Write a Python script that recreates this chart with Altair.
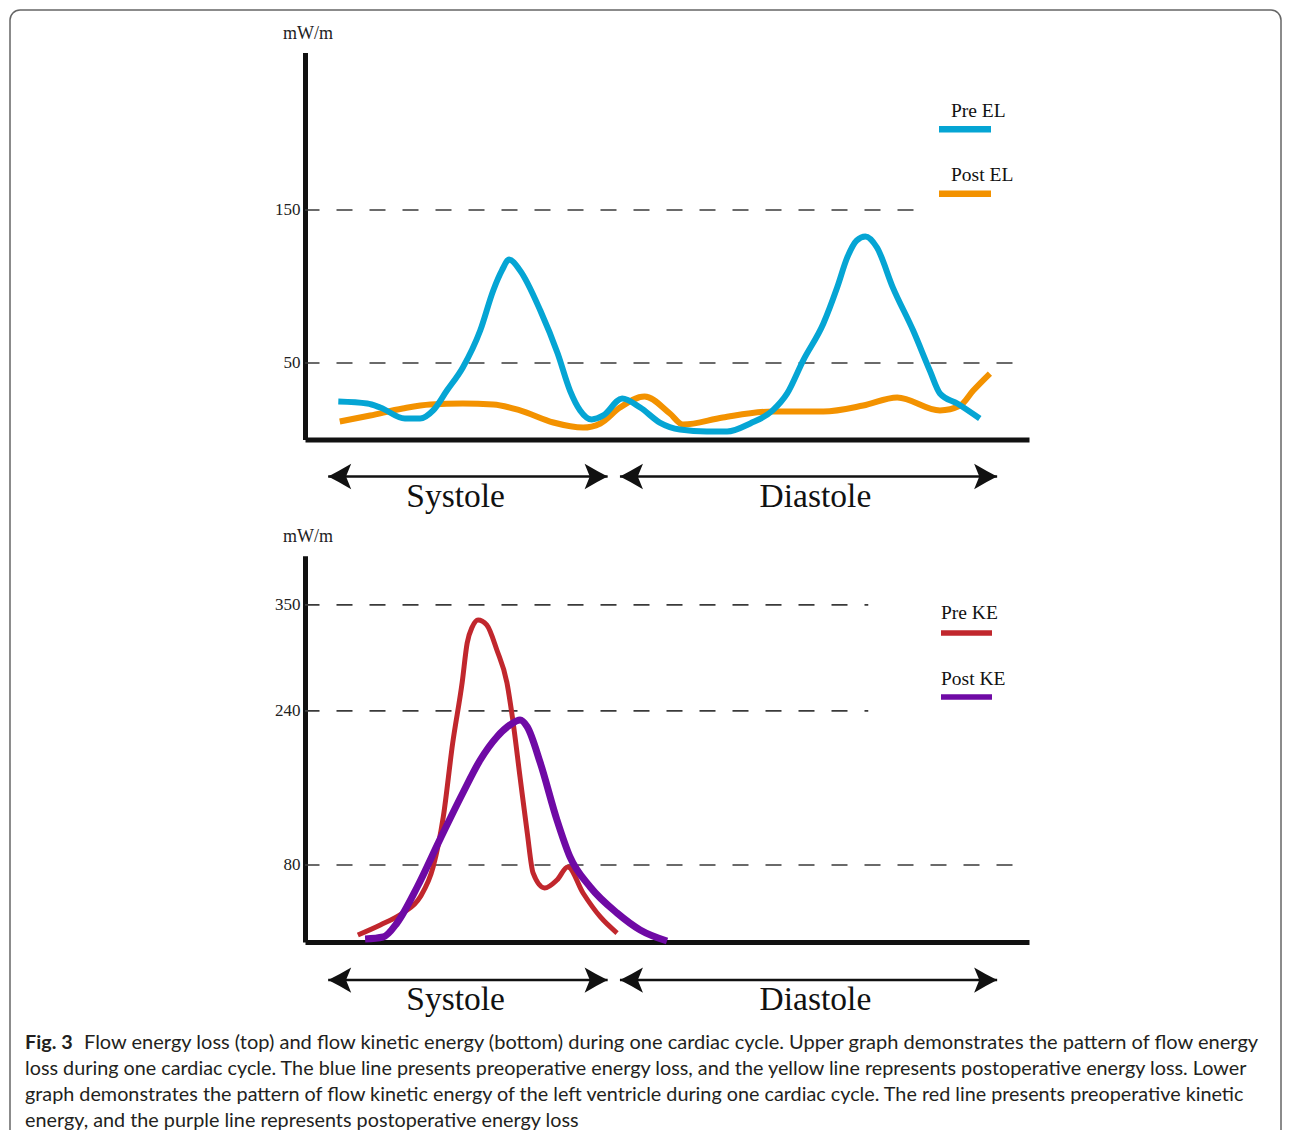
import altair as alt
import pandas as pd

# ---------------- data (x = time, % of one cardiac cycle) ----------------
pre_el_t = [4.6, 8.6, 10.4, 13.8, 15.9, 17.7, 19.6, 21.8, 24.2, 26.0, 27.2, 28.2, 29.7, 32.5, 34.9,
            36.6, 38.0, 39.6, 41.2, 43.8, 46.3, 49.0, 51.8, 55.5, 58.3, 61.5, 64.6, 66.6, 68.8, 71.6,
            73.5, 74.9, 76.2, 77.4, 79.0, 81.2, 84.0, 86.3, 87.7, 90.1, 93.2]
pre_el_v = [24.8, 23.5, 20.9, 13.7, 13.7, 19.0, 32.0, 47.1, 71.2, 97.4, 110.5, 117.6, 110.5, 84.3, 56.2,
            32.0, 19.0, 13.1, 15.7, 26.8, 20.9, 11.1, 6.5, 5.2, 5.2, 10.5, 19.0, 30.1, 51.6, 75.8,
            99.3, 119.0, 130.1, 132.7, 125.5, 99.3, 71.2, 45.1, 30.1, 23.5, 13.7]

post_el_t = [4.8, 9.0, 13.5, 17.3, 21.8, 26.0, 29.7, 34.3, 38.4, 40.8, 43.5, 46.9, 50.4, 52.2, 57.7,
             64.6, 71.6, 77.1, 81.8, 87.7, 90.5, 92.3, 94.6]
post_el_v = [11.8, 15.7, 20.3, 22.9, 23.5, 22.9, 19.0, 11.1, 7.8, 10.5, 20.9, 28.1, 17.0, 9.8, 14.4,
             18.3, 18.3, 22.2, 27.5, 19.0, 22.2, 32.0, 43.1]

pre_ke_t = [7.3, 10.4, 13.5, 15.9, 17.7, 19.1, 20.4, 21.7, 22.4, 23.1, 23.9, 25.1, 26.5, 27.9, 28.7,
            29.7, 30.7, 31.5, 33.1, 34.8, 36.3, 38.4, 40.8, 43.1]
pre_ke_v = [7.3, 17.7, 30.1, 46.7, 77.9, 129.8, 206.6, 269.0, 310.5, 327.1, 334.4, 329.2, 303.2, 269.0, 230.5,
            171.3, 113.2, 71.7, 56.1, 64.4, 77.9, 50.9, 26.0, 9.3]

post_ke_t = [8.3, 10.8, 12.7, 15.5, 18.6, 21.8, 24.2, 26.5, 28.3, 29.7, 30.7, 32.5, 34.8, 36.6, 39.4,
             43.1, 46.3, 50.0]
post_ke_v = [3.1, 5.2, 19.7, 57.1, 105.9, 154.7, 189.0, 212.9, 225.3, 230.5, 223.3, 185.9, 126.7, 88.3, 57.1,
             30.1, 12.5, 1.0]

el_ticks = [150, 50]
el_grid_end = [84.9, 100]
ke_ticks = [350, 240, 80]
ke_grid_end = [77.8, 77.8, 100]

phase_names = ["Systole", "Diastole"]
phase_start = [3.2, 43.5]
phase_end = [41.8, 95.6]
phase_label_t = [20.8, 70.5]

caption_bold = "Fig. 3"
caption_lines = [
    "Flow energy loss (top) and flow kinetic energy (bottom) during one cardiac cycle. Upper graph demonstrates the pattern of flow energy",
    "loss during one cardiac cycle. The blue line presents preoperative energy loss, and the yellow line represents postoperative energy loss. Lower",
    "graph demonstrates the pattern of flow kinetic energy of the left ventricle during one cardiac cycle. The red line presents preoperative kinetic",
    "energy, and the purple line represents postoperative energy loss",
]

# ---------------- styles ----------------
BLUE, ORANGE, RED, PURPLE = "#05a5d4", "#f39200", "#c1272d", "#6f0aa5"
SERIF = "Liberation Serif"
SANS = "Lato"
W, H = 1274, 1122

RIGHT_HEAD = "M0,0 Q-0.9,-0.45 -2,-1.1 L-1.55,0 L-2,1.1 Q-0.9,0.45 0,0 Z"
LEFT_HEAD = "M0,0 Q0.9,-0.45 2,-1.1 L1.55,0 L2,1.1 Q0.9,0.45 0,0 Z"

x_sc = alt.Scale(domain=[0, 100], range=[297, 1021], nice=False, zero=False)
one = pd.DataFrame({"k": [0]})


def make_panel(lines, ticks, grid_end, ymax, yrange, x_offset, title_y,
               arrow_y, label_y, legend):
    ysc = alt.Scale(domain=[0, ymax], range=yrange, nice=False, zero=False)
    yaxis = alt.Axis(values=ticks, orient="left", offset=-297, domain=True, domainWidth=5,
                     domainColor="#111", domainCap="butt", ticks=False, tickSize=0, labelPadding=5,
                     labelFont=SERIF, labelFontSize=17, labelColor="#222", grid=False,
                     labelFlush=False, labelOverlap=False,
                     title="mW/m", titleAngle=0, titleX=2.5, titleY=title_y, titleAlign="center",
                     titleBaseline="alphabetic", titleFont=SERIF, titleFontSize=18,
                     titleFontWeight="normal", titleColor="#222")
    xaxis = alt.Axis(orient="bottom", offset=x_offset, domain=True, domainWidth=5, domainColor="#111",
                     domainCap="butt", labels=False, ticks=False, grid=False, title=None)

    def X(f):
        return alt.X(f, scale=x_sc, axis=xaxis)

    def Y(f):
        return alt.Y(f, scale=ysc, axis=yaxis)

    def YD(v):
        return alt.YDatum(v, type="quantitative", scale=ysc, axis=yaxis)

    grid_df = pd.DataFrame({"value": ticks, "start": [0] * len(ticks), "end": grid_end})
    layers = [alt.Chart(grid_df).mark_rule(strokeDash=[16, 17], strokeDashOffset=1.5,
                                          color="#3a3a3a", strokeWidth=1.6).encode(
        x=X("start:Q"), x2="end:Q", y=Y("value:Q"))]

    for t, v, color, width in lines:
        df = pd.DataFrame({"t": t, "v": v})
        layers.append(alt.Chart(df).mark_line(color=color, strokeWidth=width, interpolate="monotone",
                                              strokeJoin="round").encode(x=X("t:Q"), y=Y("v:Q")))

    ph = pd.DataFrame({"name": phase_names, "start": phase_start, "end": phase_end,
                       "label_t": phase_label_t})
    layers.append(alt.Chart(ph).mark_rule(color="#111", strokeWidth=2.5).encode(
        x=X("start:Q"), x2="end:Q", y=YD(arrow_y)))
    layers.append(alt.Chart(ph).mark_point(shape=LEFT_HEAD, size=530, filled=True, color="#111",
                                           opacity=1, strokeWidth=0).encode(x=X("start:Q"), y=YD(arrow_y)))
    layers.append(alt.Chart(ph).mark_point(shape=RIGHT_HEAD, size=530, filled=True, color="#111",
                                           opacity=1, strokeWidth=0).encode(x=X("end:Q"), y=YD(arrow_y)))
    layers.append(alt.Chart(ph).mark_text(font=SERIF, fontSize=33.5, color="#111", align="center",
                                          baseline="alphabetic").encode(
        x=X("label_t:Q"), y=YD(label_y), text="name:N"))

    for label, color, tx, ty, lx0, lx1, ly, lw in legend:
        layers.append(alt.Chart(one).mark_text(text=label, font=SERIF, fontSize=19.5, color="#111",
                                               align="left", baseline="alphabetic").encode(
            x=alt.value(tx), y=alt.value(ty)))
        layers.append(alt.Chart(one).mark_rule(color=color, strokeWidth=lw).encode(
            x=alt.value(lx0), x2=alt.value(lx1), y=alt.value(ly)))
    return alt.layer(*layers)


top = make_panel(
    lines=[(post_el_t, post_el_v, ORANGE, 6), (pre_el_t, pre_el_v, BLUE, 6)],
    ticks=el_ticks, grid_end=el_grid_end, ymax=253, yrange=[431.5, 44.4], x_offset=431.5 - H,
    title_y=30, arrow_y=-24.2, label_y=-44.1,
    legend=[("Pre EL", BLUE, 943, 109, 931, 983, 121.3, 6.5),
            ("Post EL", ORANGE, 943, 173, 931, 983, 185.7, 6.5)],
)

bottom = make_panel(
    lines=[(pre_ke_t, pre_ke_v, RED, 5), (post_ke_t, post_ke_v, PURPLE, 7)],
    ticks=ke_ticks, grid_end=ke_grid_end, ymax=401, yrange=[934, 547.8], x_offset=934 - H,
    title_y=533.5, arrow_y=-39.5, label_y=-70.6,
    legend=[("Pre KE", RED, 933, 611, 933, 984, 625, 5.5),
            ("Post KE", PURPLE, 933, 677, 933, 984, 689, 5.5)],
)

# frame and caption
deco = [alt.Chart(one).mark_rect(fill=None, stroke="#666", strokeWidth=1.5, cornerRadius=10).encode(
    x=alt.value(2), x2=alt.value(1273), y=alt.value(2), y2=alt.value(1250))]
deco.append(alt.Chart(one).mark_text(text=caption_bold, font=SANS, fontSize=19.8, fontWeight="bold",
                                     color="#231f20", align="left", baseline="alphabetic").encode(
    x=alt.value(17), y=alt.value(1041)))
for i, line in enumerate(caption_lines):
    deco.append(alt.Chart(one).mark_text(text=line, font=SANS, fontSize=20.05 if i == 0 else 19.8,
                                         color="#231f20", align="left", baseline="alphabetic").encode(
        x=alt.value(76 if i == 0 else 17), y=alt.value(1041 + 26 * i)))

chart = (
    alt.layer(top, bottom, *deco)
    .resolve_scale(x="independent", y="independent")
    .properties(width=W, height=H, padding=0, autosize=alt.AutoSizeParams(type="none"))
    .configure_view(stroke=None)
)

chart.save("out.html", embed_options={"renderer": "svg", "actions": False})
